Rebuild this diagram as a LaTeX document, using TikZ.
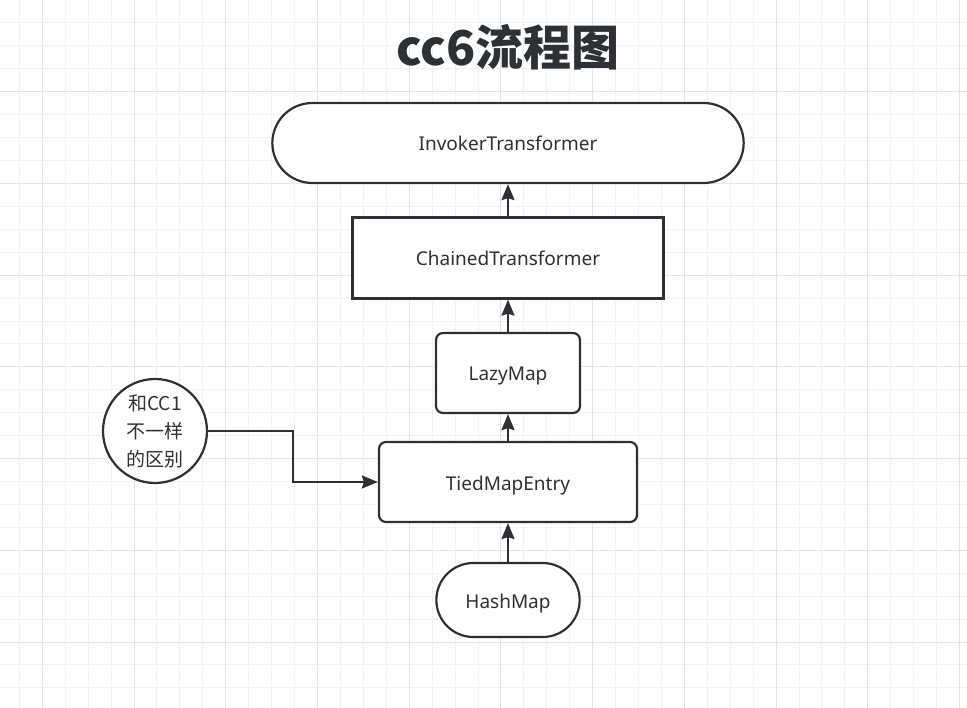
\documentclass[tikz,border=0pt]{standalone}
\usepackage{fontspec}
\setmainfont{Noto Sans}
\newfontfamily\cjk{Noto Sans CJK SC}
\usetikzlibrary{arrows.meta, shapes.misc, calc}

\definecolor{ink}{RGB}{45,49,54}
\definecolor{gridminor}{RGB}{242,242,242}
\definecolor{gridmajor}{RGB}{228,228,228}

\begin{document}
\begin{tikzpicture}[
        x=1pt, y=-1pt,
        >={Stealth[length=16pt, width=13pt, inset=2pt]},
        box/.style={draw=ink, line width=2.2pt, fill=white, text=ink, font=\fontsize{19}{22}\selectfont, text height=16pt, text depth=0pt, minimum height=80pt},
        roundbox/.style={box, rounded corners=7pt},
        pill/.style={box, rounded rectangle},
        note/.style={draw=ink, line width=2.2pt, fill=white, text=ink, circle, minimum size=104pt, inner sep=0pt, align=center, font=\cjk\fontsize{19}{28}\selectfont},
        link/.style={draw=ink, line width=2.2pt, ->},
    ]

        % background grid
        \useasboundingbox (0,0) rectangle (967,708);
        \foreach \k in {0,...,41}
            \draw[gridminor, line width=1pt] (19.4+22.93*\k,0) -- (19.4+22.93*\k,708);
        \foreach \k in {0,...,30}
            \draw[gridminor, line width=1pt] (0,22.93*\k) -- (967,22.93*\k);
        \foreach \k in {0,...,10}
            \draw[gridmajor, line width=1pt] (42.3+91.72*\k,0) -- (42.3+91.72*\k,708);
        \foreach \k in {0,...,7}
            \draw[gridmajor, line width=1pt] (0,91.72*\k) -- (967,91.72*\k);

        % title
        \node[text=ink, font=\cjk\bfseries\fontsize{48}{52}\selectfont] (title) at (508,47) {cc6流程图};

        % the chain
        \node[pill, minimum width=478pt] (invoker) at (508,143) {InvokerTransformer};
        \node[box, minimum width=311pt, minimum height=81pt] (chained) at (508,258) {ChainedTransformer};
        \node[roundbox, minimum width=144pt] (lazy) at (508,373) {LazyMap};
        \node[roundbox, minimum width=258pt] (tied) at (508,482) {TiedMapEntry};
        \node[pill, minimum width=150pt, minimum height=74pt] (hash) at (508,600) {HashMap};

        % side note
        \node[note] (diff) at (155,431) {和CC1\\不一样\\的区别};

        % connect them
        \path[link] (hash.north) -- (tied.south);
        \path[link] (tied.north) -- (lazy.south);
        \path[link] (lazy.north) -- (chained.south);
        \path[link] (chained.north) -- (invoker.south);
        \path[link] (diff.east) -| ($(diff.east)!.5!(tied.west)$) |- (tied.west);
\end{tikzpicture}
\end{document}
